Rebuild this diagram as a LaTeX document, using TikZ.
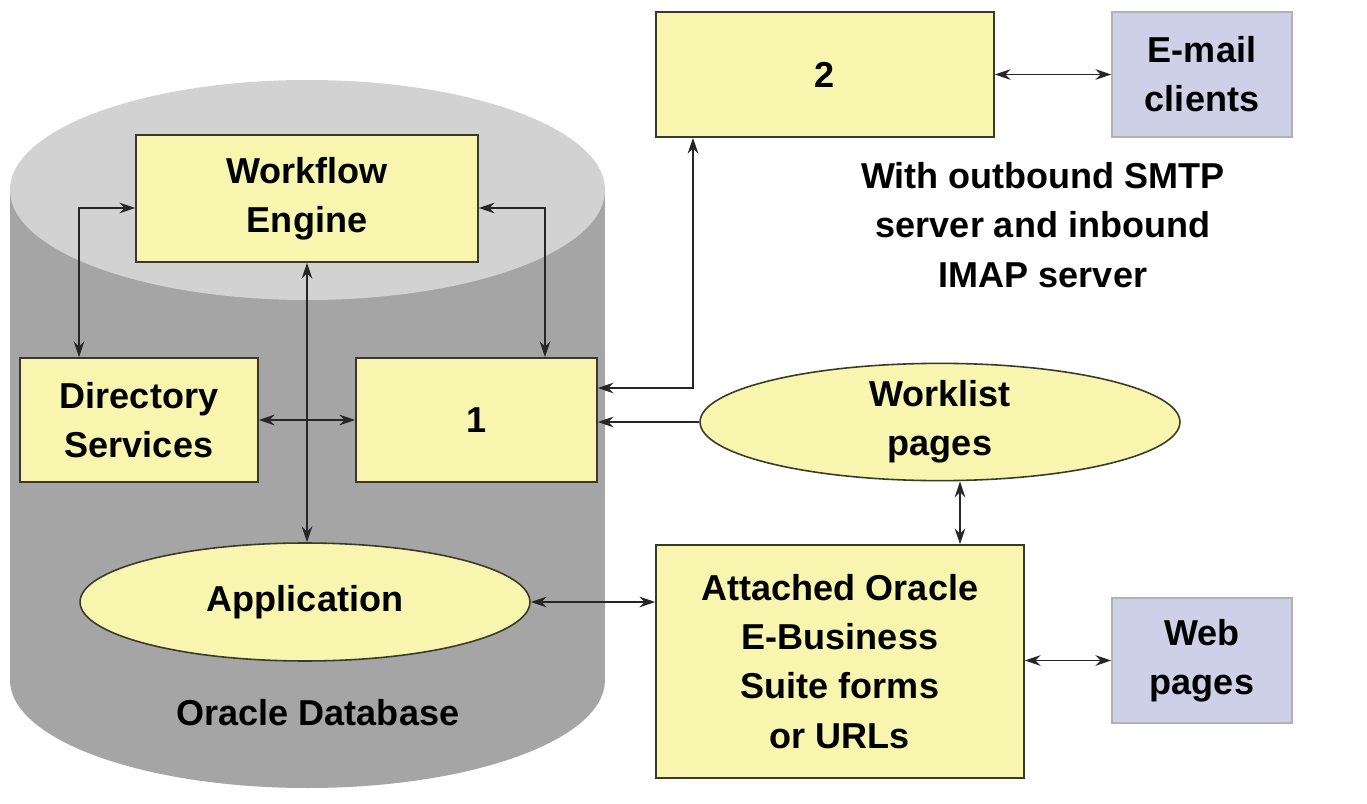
\documentclass[tikz,border=0pt]{standalone}
\usepackage{fontspec}
\setmainfont{Liberation Sans}
\usetikzlibrary{arrows.meta,shapes.geometric}
\definecolor{boxyellow}{HTML}{F8F5AE}
\definecolor{clientblue}{HTML}{CDD0E6}
\definecolor{dbbody}{HTML}{A5A5A5}
\definecolor{dbtop}{HTML}{D2D2D2}
\definecolor{rim}{HTML}{3A3A2A}
\tikzset{every node/.style={font=\fontsize{20.5}{28}\selectfont\bfseries, align=center},
    box/.style={draw=rim, line width=0.9pt, fill=boxyellow, inner sep=0pt},
    client/.style={draw=gray!60, line width=0.9pt, fill=clientblue, inner sep=0pt},
    oval/.style={ellipse, draw=rim, line width=0.9pt, fill=boxyellow, inner sep=0pt},
    link/.style={line width=1.1pt, draw=black!85},
    both/.style={link, {Stealth[length=9pt,width=6pt]}-{Stealth[length=9pt,width=6pt]}},
    oneway/.style={link, -{Stealth[length=9pt,width=6pt]}},
    }

\begin{document}
\begin{tikzpicture}[x=0.02cm, y=-0.02cm]
\useasboundingbox (0,0) rectangle (1367,804);
% database cylinder
\fill[dbbody] (10,190) rectangle (605,680);
\fill[dbbody] (307.5,680) ellipse [x radius=297.5, y radius=108];
\fill[dbtop] (307.5,190) ellipse [x radius=297.5, y radius=110];

\node[box, minimum width=6.84cm, minimum height=2.54cm] (wf) at (307,198.5) {Workflow\\Engine};
\node[box, minimum width=4.76cm, minimum height=2.48cm] (dir) at (139,420) {Directory\\Services};
\node[box, minimum width=4.82cm, minimum height=2.48cm] (one) at (476.5,420) {1};
\node[oval, minimum width=9cm, minimum height=2.36cm] (app) at (305,602) {Application};
\node (db) at (318,713) {Oracle Database};

\node[box, minimum width=6.76cm, minimum height=2.5cm] (two) at (825,74.5) {2};
\node[client, minimum width=3.6cm, minimum height=2.5cm] (mail) at (1202,74.5) {E-mail\\clients};
\node (smtp) at (1043,225) {With outbound SMTP\\server and inbound\\IMAP server};
\node[oval, minimum width=9.6cm, minimum height=2.3cm] (wl) at (940,422) {Worklist\\pages};
\node[box, minimum width=7.36cm, minimum height=4.66cm] (att) at (840,661.5) {Attached Oracle\\E-Business\\Suite forms\\or URLs};
\node[client, minimum width=3.6cm, minimum height=2.5cm] (web) at (1202,660.5) {Web\\pages};
\coordinate (turn) at (693,388);

% connectors
\draw[both] ([xshift=-1.2cm]dir.north) |- ([yshift=-0.19cm]wf.west);
\draw[both] ([yshift=-0.19cm]wf.east) -| ([xshift=1.37cm]one.north);
\draw[both] (wf.south) -- (wf.south |- app.north);
\draw[both] (dir.east) -- (one.west);
\draw[both] (two.south -| turn) -- (turn) -- (one.east |- turn);
\draw[oneway] (wl.west) -- (one.east |- wl.west);
\draw[both] (app.east) -- (att.west |- app.east);
\draw[both] ([xshift=0.4cm]wl.south) -- ([xshift=0.4cm]wl.south |- att.north);
\draw[both] (two.east) -- (mail.west);
\draw[both] (att.east |- web.west) -- (web.west);
\end{tikzpicture}
\end{document}
